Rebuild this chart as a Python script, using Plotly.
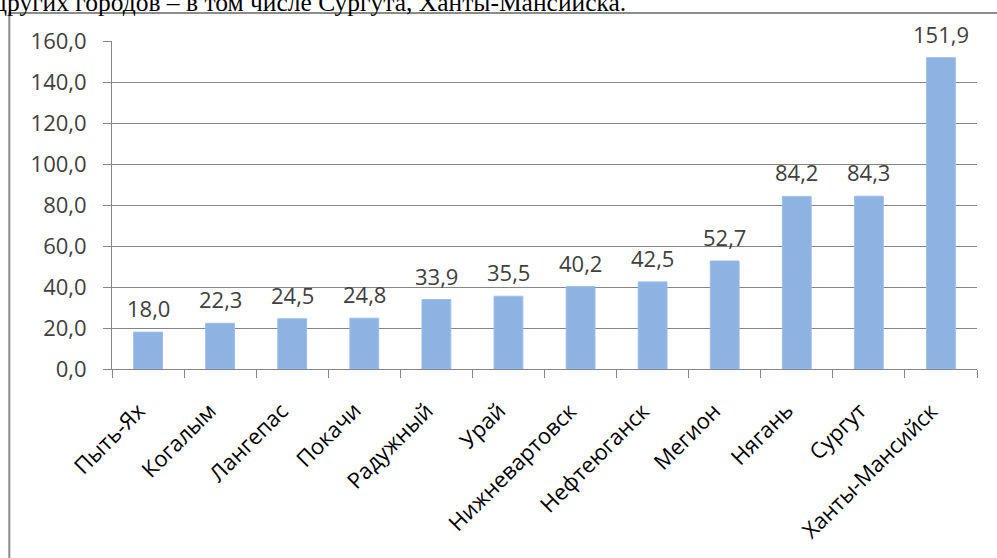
import plotly.graph_objects as go

cities = ["Пыть-Ях", "Когалым", "Лангепас", "Покачи", "Радужный", "Урай",
          "Нижневартовск", "Нефтеюганск", "Мегион", "Нягань", "Сургут", "Ханты-Мансийск"]
values = [18.0, 22.3, 24.5, 24.8, 33.9, 35.5, 40.2, 42.5, 52.7, 84.2, 84.3, 151.9]
y_ticks = [0, 20, 40, 60, 80, 100, 120, 140, 160]
header_text = "других городов – в том числе Сургута, Ханты-Мансийска."

W, H = 997, 558
L, R, T, B = 111.7, 976.7, 41.0, 369.3

def px_x(p):
    return (p - L) / (R - L)

def px_y(p):
    return (B - p) / (B - T)

fig = go.Figure()
fig.add_trace(go.Bar(
    x=cities, y=values,
    marker=dict(color="#8DB3E2", line=dict(color="#9DBFE8", width=1)),
    hoverinfo="x+y",
))

label_font = dict(family="Open Sans", size=22, color="#404040")
for c, v in zip(cities, values):
    fig.add_annotation(x=c, y=v, xref="x", yref="y",
                       text=f"{v:.1f}".replace(".", ","),
                       showarrow=False, yanchor="middle", yshift=24,
                       font=label_font)

# rotated category labels, top-right corner anchored under each category
for c in cities:
    fig.add_annotation(x=c, y=px_y(393), xref="x", yref="paper",
                       text=c, textangle=-45, showarrow=False,
                       xanchor="right", yanchor="top", xshift=5,
                       font=dict(family="Open Sans", size=22, color="#000000"))

fig.add_annotation(x=px_x(-8), y=px_y(19), xref="paper", yref="paper",
                   xanchor="left", yanchor="bottom", showarrow=False,
                   text=header_text,
                   font=dict(family="Liberation Serif", size=25.5, color="#000000"))

fig.add_shape(type="rect", xref="paper", yref="paper",
              x0=px_x(9), x1=px_x(1010), y0=px_y(13), y1=px_y(575),
              line=dict(color="#8C8C8C", width=2), fillcolor="rgba(0,0,0,0)",
              layer="below")

fig.update_layout(
    width=W, height=H,
    margin=dict(l=L, r=W - R, t=T, b=H - B, autoexpand=False),
    paper_bgcolor="white", plot_bgcolor="white",
    separators=", ",
    bargap=0.6,
    showlegend=False,
    font=dict(family="Open Sans", size=22, color="#404040"),
)
fig.update_xaxes(
    type="category", tickson="boundaries", ticks="outside", ticklen=8,
    tickcolor="#868686", showline=True, linecolor="#868686", linewidth=1,
    showgrid=False, showticklabels=False,
    range=[-0.5, len(cities) - 0.5], autorange=False,
)
fig.update_yaxes(
    range=[0, 160], tickvals=y_ticks, tickformat=".1f", ticks="outside", ticklen=8,
    tickcolor="#868686", showline=True, linecolor="#868686", linewidth=1,
    showgrid=True, gridcolor="#868686", gridwidth=1, zeroline=False,
    tickfont=dict(family="Open Sans", size=22, color="#404040"),
    ticklabelstandoff=12,
)

fig.write_html("out.html", config={"displayModeBar": False},
               post_script="document.body.style.margin='0';")
